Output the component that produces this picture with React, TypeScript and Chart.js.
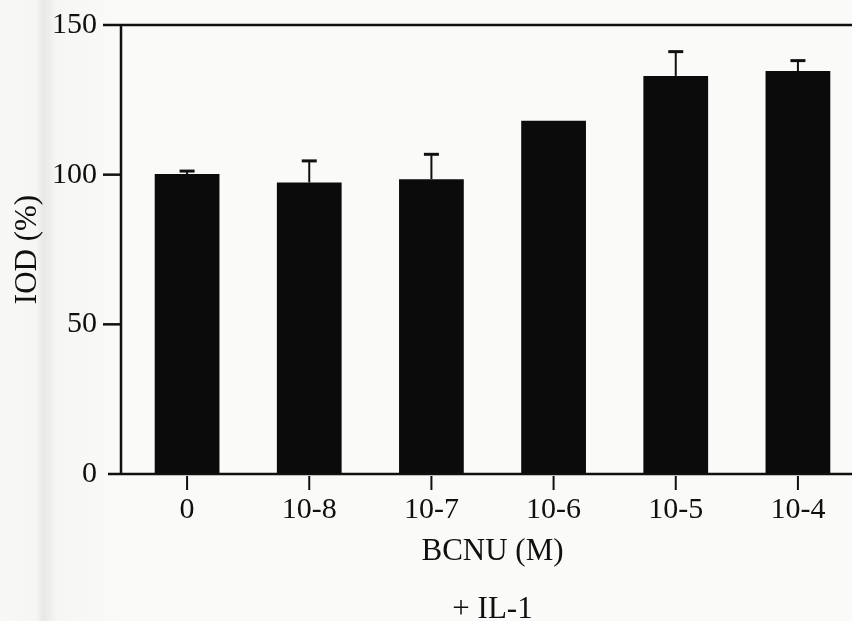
import { useEffect, useRef } from "react";
import { Chart, registerables } from "chart.js";

Chart.register(...registerables);

// ---- data ----
const categories = ["0", "10-8", "10-7", "10-6", "10-5", "10-4"];
const iodValues = [100.2, 97.4, 98.5, 118.0, 133.0, 134.6];
const iodErrors = [1.0, 7.2, 8.3, 0, 8.1, 3.5];
const yTickValues = [0, 50, 100, 150];
const xTitleLines = ["BCNU (M)", "+ IL-1"];
const yTitleText = "IOD (%)";

const FONT = "'Liberation Serif', 'Times New Roman', serif";
const INK = "#101010";

const framePlugin = {
  id: "framePlugin",
  afterDatasetsDraw(chart: any) {
    const { ctx, chartArea, scales } = chart;
    const x = scales.x;
    const y = scales.y;
    const axisX = chartArea.left - 5;
    const yTop = y.getPixelForValue(yTickValues[yTickValues.length - 1]);
    const yZero = y.getPixelForValue(0);
    const seg = (x1: number, y1: number, x2: number, y2: number) => {
      ctx.beginPath();
      ctx.moveTo(x1, y1);
      ctx.lineTo(x2, y2);
      ctx.stroke();
    };
    ctx.save();
    ctx.strokeStyle = INK;
    ctx.lineWidth = 2.5;
    ctx.lineCap = "butt";
    // frame lines
    seg(axisX - 18, yTop, chart.width, yTop);
    seg(axisX, yTop, axisX, yZero + 1);
    seg(axisX - 13, yZero, chart.width, yZero);
    // y tick marks
    yTickValues.forEach((v) => {
      if (v === 0 || v === yTickValues[yTickValues.length - 1]) return;
      const py = y.getPixelForValue(v);
      seg(axisX - 18, py, axisX, py);
    });
    // x tick marks
    ctx.lineWidth = 2;
    categories.forEach((_, i) => {
      const px = x.getPixelForValue(i);
      seg(px, yZero + 2, px, yZero + 16);
    });
    // error bars (upper only)
    const meta = chart.getDatasetMeta(0);
    iodValues.forEach((v, i) => {
      const e = iodErrors[i];
      if (!e) return;
      const bar = meta.data[i];
      const base = y.getPixelForValue(v);
      const top = y.getPixelForValue(v + e);
      ctx.lineWidth = 2;
      seg(bar.x, base, bar.x, top);
      ctx.lineWidth = 3;
      seg(bar.x - 7.5, top, bar.x + 7.5, top);
    });
    ctx.restore();
  },
};

export default function App() {
  const canvasRef = useRef<HTMLCanvasElement | null>(null);

  useEffect(() => {
    const canvas = canvasRef.current;
    if (!canvas) return;
    const chart = new Chart(canvas, {
      type: "bar",
      data: {
        labels: categories,
        datasets: [
          {
            data: iodValues,
            backgroundColor: "#0b0b0b",
            borderWidth: 0,
            barPercentage: 0.53,
            categoryPercentage: 1,
          },
        ],
      },
      options: {
        responsive: false,
        animation: false,
        devicePixelRatio: 1,
        layout: { padding: { top: 25, right: 11, bottom: 0, left: 0 } },
        plugins: {
          legend: { display: false },
          tooltip: { enabled: false },
        },
        scales: {
          x: {
            type: "category",
            offset: true,
            grid: { display: false, drawTicks: false },
            border: { display: false },
            ticks: {
              color: INK,
              padding: 18,
              font: { family: FONT, size: 30 },
              maxRotation: 0,
              autoSkip: false,
            },
            title: {
              display: true,
              text: xTitleLines,
              color: INK,
              font: { family: FONT, size: 31, lineHeight: 1.87 },
              padding: { top: 0, bottom: 11 },
            },
            afterFit: (scale: any) => {
              scale.height = 176;
              scale.paddingLeft = 0;
              scale.paddingRight = 0;
            },
          },
          y: {
            min: 0,
            max: 150,
            grid: { display: false, drawTicks: false },
            border: { display: false },
            ticks: {
              stepSize: 50,
              color: INK,
              padding: 29,
              font: { family: FONT, size: 30 },
            },
            title: {
              display: true,
              text: yTitleText,
              color: INK,
              font: { family: FONT, size: 31, lineHeight: 1.2 },
              padding: { top: 9, bottom: 0 },
            },
            afterFit: (scale: any) => {
              scale.width = 126;
              scale.paddingTop = 0;
              scale.paddingBottom = 0;
            },
          },
        },
      },
      plugins: [framePlugin],
    });
    return () => chart.destroy();
  }, []);

  return (
    <div
      style={{
        position: "fixed",
        left: 0,
        top: 0,
        width: 852,
        height: 621,
        overflow: "hidden",
        background:
          "linear-gradient(to right, #f8f8f6 0px, #f6f6f4 36px, #e8e8e6 43px, #ececea 48px, #f6f6f4 56px, #fafaf8 120px, #fafaf8 852px)",
      }}
    >
      <canvas
        ref={canvasRef}
        width={870}
        height={650}
        style={{ display: "block", width: 870, height: 650 }}
      />
    </div>
  );
}
